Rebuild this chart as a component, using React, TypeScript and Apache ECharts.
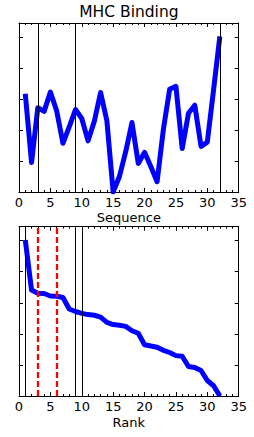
import React, { useEffect, useRef } from "react";
import * as echarts from "echarts";

// Sequence positions (x of the upper panel)
const positions = [
  1, 2, 3, 4, 5, 6, 7, 8, 9, 10, 11, 12, 13, 14, 15, 16,
  17, 18, 19, 20, 21, 22, 23, 24, 25, 26, 27, 28, 29, 30, 31, 32,
];
// Binding score per position (y units = tick steps from the bottom edge)
const bindingScores = [
  3.17, 0.95, 2.72, 2.6, 3.22, 2.62, 1.57, 2.1, 2.66, 2.37, 1.65, 2.28, 3.21, 2.3, 0.0, 0.5,
  1.3, 2.24, 0.92, 1.28, 0.82, 0.33, 2.02, 3.31, 3.41, 1.4, 2.54, 2.8, 1.47, 1.61, 3.3, 5.02,
];
const sequenceMarkers = [3, 9, 32];
const rankSolidMarkers = [1, 9, 10];
const rankDashedMarkers = [3, 6];
const xMin = 0;
const xMax = 35;
const xStep = 5;
const yMin = 0;
const yMax = 5.45;
const yStep = 1;

const FONT = "DejaVu Sans";

export default function App() {
  const ref = useRef<HTMLDivElement>(null);
  useEffect(() => {
    if (!ref.current) return;
    const chart = echarts.init(ref.current, null, { renderer: "svg" });

    const ranked = [...bindingScores].sort((a, b) => b - a);
    const rankData = ranked.map((v, i) => [positions[i], v]);
    const seqData = positions.map((p, i) => [p, bindingScores[i]]);

    const grids = [
      { left: 19, right: 15.3, top: 23, height: 169 },
      { left: 19, right: 15.3, top: 226.7, height: 169.3 },
    ];

    const mkX = (gridIndex: number, pos: "bottom" | "top", name?: string, nameGap?: number) => ({
      type: "value",
      gridIndex,
      position: pos,
      min: xMin,
      max: xMax,
      interval: xStep,
      name: name,
      nameLocation: "middle",
      nameGap: nameGap,
      nameTextStyle: { fontFamily: FONT, fontSize: 13, color: "#000" },
      axisLine: { show: true, onZero: false, lineStyle: { color: "#000", width: 1 } },
      axisTick: { show: true, inside: true, length: 4, lineStyle: { color: "#000", width: 1 } },
      minorTick: { show: true, splitNumber: 5, length: 2, lineStyle: { color: "#000", width: 1 } },
      axisLabel: {
        show: pos === "bottom",
        margin: 4,
        fontFamily: FONT,
        fontSize: 13,
        color: "#000",
        showMinLabel: true,
        showMaxLabel: true,
      },
      splitLine: { show: false },
    });
    const mkY = (gridIndex: number, pos: "left" | "right") => ({
      type: "value",
      gridIndex,
      position: pos,
      min: yMin,
      max: yMax,
      interval: yStep,
      axisLine: { show: true, onZero: false, lineStyle: { color: "#000", width: 1 } },
      axisTick: { show: true, inside: true, length: 4, lineStyle: { color: "#000", width: 1 } },
      axisLabel: { show: false },
      splitLine: { show: false },
    });

    const markerSeries = (
      xAxisIndex: number,
      yAxisIndex: number,
      values: number[],
      lineStyle: any
    ) => ({
      type: "line",
      xAxisIndex,
      yAxisIndex,
      data: [],
      z: 5,
      silent: true,
      markLine: {
        silent: true,
        symbol: "none",
        label: { show: false },
        lineStyle,
        data: values.map((v) => ({ xAxis: v })),
      },
    });

    const blueLine = (xAxisIndex: number, yAxisIndex: number, data: number[][]) => ({
      type: "line",
      xAxisIndex,
      yAxisIndex,
      data,
      showSymbol: false,
      symbol: "none",
      clip: true,
      z: 3,
      lineStyle: { color: "#0000ff", width: 5, join: "round", cap: "butt" },
    });

    chart.setOption({
      animation: false,
      graphic: [
        {
          type: "text",
          x: 128.9,
          y: 12,
          style: {
            text: "MHC Binding",
            fontFamily: FONT,
            fontSize: 15.5,
            fill: "#000",
            textAlign: "center",
            textVerticalAlign: "middle",
          },
        },
      ],
      grid: grids,
      xAxis: [
        mkX(0, "bottom", "Sequence", 18.5),
        mkX(0, "top"),
        mkX(1, "bottom", "Rank", 19.5),
        mkX(1, "top"),
      ],
      yAxis: [mkY(0, "left"), mkY(0, "right"), mkY(1, "left"), mkY(1, "right")],
      series: [
        blueLine(0, 0, seqData),
        markerSeries(0, 0, sequenceMarkers, { color: "#000", width: 1, type: "solid" }),
        blueLine(2, 2, rankData),
        markerSeries(2, 2, rankSolidMarkers, { color: "#000", width: 1, type: "solid" }),
        markerSeries(2, 2, rankDashedMarkers, { color: "#ff0000", width: 2.3, type: [6, 3] }),
      ],
    });
    return () => chart.dispose();
  }, []);
  return (
    <div
      ref={ref}
      style={{ position: "absolute", left: 0, top: 0, width: 254, height: 437 }}
    />
  );
}
